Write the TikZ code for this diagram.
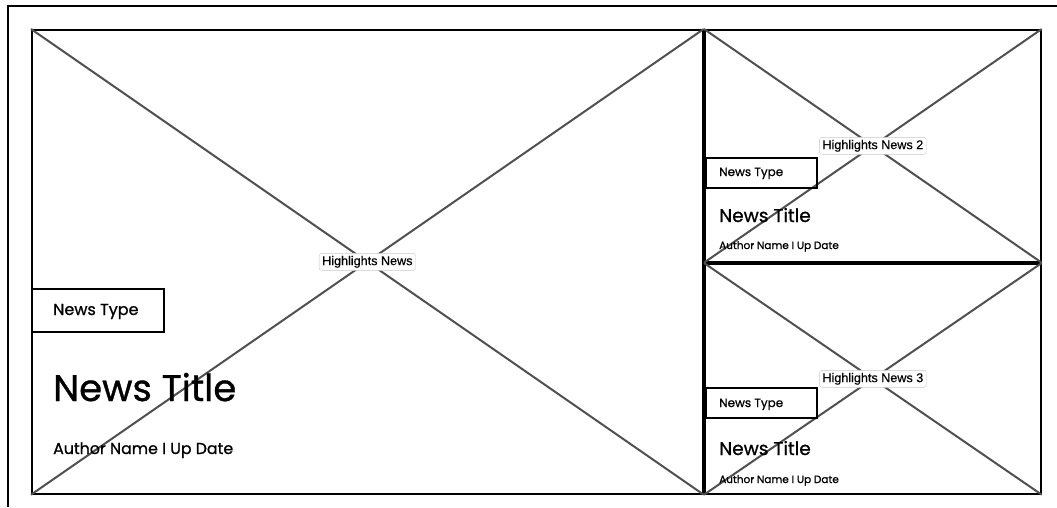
\documentclass[tikz,border=0pt]{standalone}
\usepackage{fontspec}
\setmainfont{Poppins}[FakeBold=0.9]
\newfontfamily\labelfont{Liberation Sans}[FakeBold=0.4]
\usetikzlibrary{positioning}

\tikzset{
  imgbox/.style={draw, line width=1.7pt, inner sep=0pt, anchor=north west},
  crossline/.style={draw={rgb,255:red,80;green,80;blue,80}, line width=2pt},
  typebox/.style={draw, line width=1.9pt, inner sep=0pt, anchor=north west},
  hlabel/.style={draw={rgb,255:red,200;green,200;blue,200}, fill=white, rounded corners=2.5pt,
    inner xsep=3pt, inner ysep=0pt, minimum height=17pt, font=\labelfont\fontsize{12.6}{14}\selectfont},
  txt/.style={anchor=base west, inner sep=0pt}
}

\begin{document}
\begin{tikzpicture}[x=1pt,y=1pt,yscale=-1,xscale=1]
\useasboundingbox (0,0) rectangle (1057,507);

% page frame
\coordinate (frameR) at (1057,6);
\coordinate (frameTL) at (8,6);
\coordinate (frameB) at (8,507);
\draw [line width=2pt] (frameR) -- (frameTL) -- (frameB) ;

% image boxes
\node [imgbox, minimum width=671pt, minimum height=464pt] (main) at (31,29) {};
\node [imgbox, minimum width=336pt, minimum height=232pt] (side1) at (704,29) {};
\node [imgbox, minimum width=336pt, minimum height=230pt] (side2) at (704,263) {};

\draw [crossline] (main.north west) -- (main.south east) ;
\draw [crossline] (main.south west) -- (main.north east) ;
\draw [crossline] (side1.north west) -- (side1.south east) ;
\draw [crossline] (side1.south west) -- (side1.north east) ;
\draw [crossline] (side2.north west) -- (side2.south east) ;
\draw [crossline] (side2.south west) -- (side2.north east) ;

\node [hlabel] (mainlbl) at (main.center) {Highlights News};
\node [hlabel] (side1lbl) at (side1.center) {Highlights News 2};
\node [hlabel] (side2lbl) at (side2.center) {Highlights News 3};

% main story
\node [typebox, minimum width=132pt, minimum height=43pt] (maintype) at (31,288) {};
\node [txt, font=\fontsize{16}{18}\selectfont] (maintypetxt) at (53,315) {News Type};
\node [txt, font=\fontsize{37}{42}\selectfont] (maintitle) at (53,401) {News Title};
\node [txt, font=\fontsize{15.8}{18}\selectfont] (mainauthor) at (53,454) {Author Name I Up Date};

% side story 2
\node [typebox, minimum width=111pt, minimum height=30pt] (side1type) at (705,157) {};
\node [txt, font=\fontsize{12}{15}\selectfont] (side1typetxt) at (719,176) {News Type};
\node [txt, font=\fontsize{18.5}{21}\selectfont] (side1title) at (719,222) {News Title};
\node [txt, font=\fontsize{10.5}{12}\selectfont] (side1author) at (719,249) {Author Name I Up Date};

% side story 3
\node [typebox, minimum width=111pt, minimum height=30pt] (side2type) at (705,387) {};
\node [txt, font=\fontsize{12}{15}\selectfont] (side2typetxt) at (719,407) {News Type};
\node [txt, font=\fontsize{18.5}{21}\selectfont] (side2title) at (719,455) {News Title};
\node [txt, font=\fontsize{10.5}{12}\selectfont] (side2author) at (719,483) {Author Name I Up Date};
\end{tikzpicture}
\end{document}
